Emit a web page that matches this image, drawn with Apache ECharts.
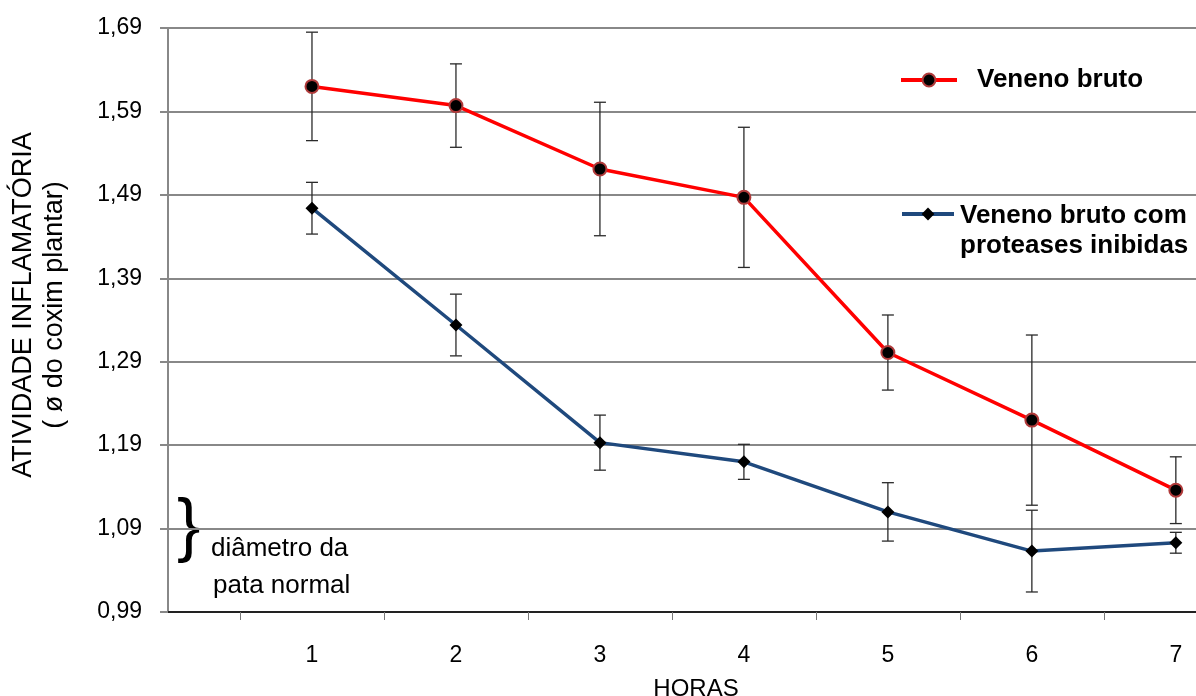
<!DOCTYPE html>
<html>
<head>
<meta charset="utf-8">
<title>Atividade inflamatória</title>
<script src="https://cdn.jsdelivr.net/npm/echarts@6/dist/echarts.min.js"></script>
<style>
  html, body { margin: 0; padding: 0; background: #fff; }
  #chart { width: 1196px; height: 696px; }
</style>
</head>
<body>
<div id="chart"></div>
<script>
// dados
const horas = [1, 2, 3, 4, 5, 6, 7];
const venenoBruto = [1.620, 1.597, 1.521, 1.487, 1.301, 1.220, 1.136];
const venenoBrutoErro = [0.065, 0.050, 0.080, 0.084, 0.045, 0.102, 0.040];
const venenoInibido = [1.474, 1.334, 1.193, 1.170, 1.110, 1.063, 1.073];
const venenoInibidoErro = [0.031, 0.037, 0.033, 0.021, 0.035, 0.049, 0.0125];
const xTickMarks = [0.5, 1.5, 2.5, 3.5, 4.5, 5.5, 6.5];
const xLabels = [1, 2, 3, 4, 5, 6, 7];

const font = "'Liberation Sans', Arial, sans-serif";

function errorData(values, errs) {
  return horas.map((h, i) => [h, values[i] - errs[i], values[i] + errs[i]]);
}

function renderErrorBar(params, api) {
  const x = api.value(0);
  const lo = api.coord([x, api.value(1)]);
  const hi = api.coord([x, api.value(2)]);
  const hw = 6;
  const style = { stroke: '#2a2a2a', lineWidth: 1.3 };
  return {
    type: 'group',
    children: [
      { type: 'line', shape: { x1: lo[0], y1: lo[1], x2: hi[0], y2: hi[1] }, style: style },
      { type: 'line', shape: { x1: lo[0] - hw, y1: lo[1], x2: lo[0] + hw, y2: lo[1] }, style: style },
      { type: 'line', shape: { x1: hi[0] - hw, y1: hi[1], x2: hi[0] + hw, y2: hi[1] }, style: style }
    ]
  };
}

const chart = echarts.init(document.getElementById('chart'));

chart.setOption({
  animation: false,
  textStyle: { fontFamily: font },
  grid: { left: 168, right: 0, top: 28, bottom: 84, outerBoundsMode: 'none' },
  legend: [
    {
      data: ['Veneno bruto'],
      left: 894, top: 60,
      itemWidth: 56, itemHeight: 16, itemGap: 0,
      lineStyle: { width: 4 },
      textStyle: { fontFamily: font, fontSize: 26, fontWeight: 'bold', color: '#000', lineHeight: 30, padding: [0, 0, 0, 15] },
      selectedMode: false
    },
    {
      data: ['Veneno bruto com\nproteases inibidas'],
      left: 895, top: 162,
      itemWidth: 52, itemHeight: 16, itemGap: 0,
      lineStyle: { width: 4 },
      formatter: name => '{gap| }\n' + name.split('\n').map(s => '{t|' + s + '}').join('\n'),
      textStyle: {
        fontFamily: font, color: '#000',
        rich: {
          gap: { fontSize: 10, height: 34, lineHeight: 34 },
          t: { fontFamily: font, fontSize: 26, fontWeight: 'bold', color: '#000', lineHeight: 30, padding: [0, 0, 0, 1] }
        }
      },
      selectedMode: false
    }
  ],
  xAxis: {
    type: 'value',
    min: 0, max: 7.14,
    splitLine: { show: false },
    axisLine: { lineStyle: { color: '#000', width: 1.5 } },
    axisTick: { show: true, customValues: xTickMarks, length: 8, lineStyle: { color: '#777' } },
    axisLabel: { customValues: xLabels, margin: 32, fontSize: 23, color: '#000', fontFamily: font },
    name: 'HORAS',
    nameLocation: 'middle',
    nameGap: 65,
    nameTextStyle: { fontSize: 24, color: '#000', fontFamily: font, padding: [0, 0, 0, 28] }
  },
  yAxis: {
    type: 'value',
    min: 0.99, max: 1.69, interval: 0.1,
    axisLine: { show: true, lineStyle: { color: '#888', width: 2 } },
    axisTick: { show: true, inside: false, length: 8, lineStyle: { color: '#888', width: 2 } },
    splitLine: { lineStyle: { color: '#888', width: 2 } },
    axisLabel: {
      margin: 26, fontSize: 23, color: '#000', fontFamily: font,
      formatter: v => v.toFixed(2).replace('.', ',')
    },
    name: 'ATIVIDADE INFLAMATÓRIA\n( ø do coxim plantar)',
    nameLocation: 'middle',
    nameGap: 98,
    nameTextStyle: { fontSize: 27, lineHeight: 31, color: '#000', fontFamily: font, padding: [0, 0, 0, 30] }
  },
  series: [
    {
      type: 'custom',
      renderItem: renderErrorBar,
      data: errorData(venenoBruto, venenoBrutoErro),
      encode: { x: 0, y: [1, 2] },
      silent: true, z: 1
    },
    {
      type: 'custom',
      renderItem: renderErrorBar,
      data: errorData(venenoInibido, venenoInibidoErro),
      encode: { x: 0, y: [1, 2] },
      silent: true, z: 1
    },
    {
      name: 'Veneno bruto',
      type: 'line',
      data: horas.map((h, i) => [h, venenoBruto[i]]),
      symbol: 'circle', symbolSize: 13,
      lineStyle: { color: '#ff0000', width: 3.5 },
      itemStyle: { color: '#000', borderColor: '#b03a3a', borderWidth: 2 },
      emphasis: { disabled: true },
      z: 3
    },
    {
      name: 'Veneno bruto com\nproteases inibidas',
      type: 'line',
      data: horas.map((h, i) => [h, venenoInibido[i]]),
      symbol: 'diamond', symbolSize: 13,
      lineStyle: { color: '#1f497d', width: 3.5 },
      itemStyle: { color: '#000' },
      emphasis: { disabled: true },
      z: 3
    }
  ],
  graphic: [
    {
      type: 'text', left: 177, top: 494,
      style: { text: '}', fontSize: 70, fontFamily: font, fill: '#000' }
    },
    {
      type: 'text', left: 211, top: 536,
      style: { text: 'diâmetro da', fontSize: 26, fontFamily: font, fill: '#000' }
    },
    {
      type: 'text', left: 213, top: 573,
      style: { text: 'pata normal', fontSize: 26, fontFamily: font, fill: '#000' }
    }
  ]
});
</script>
</body>
</html>
